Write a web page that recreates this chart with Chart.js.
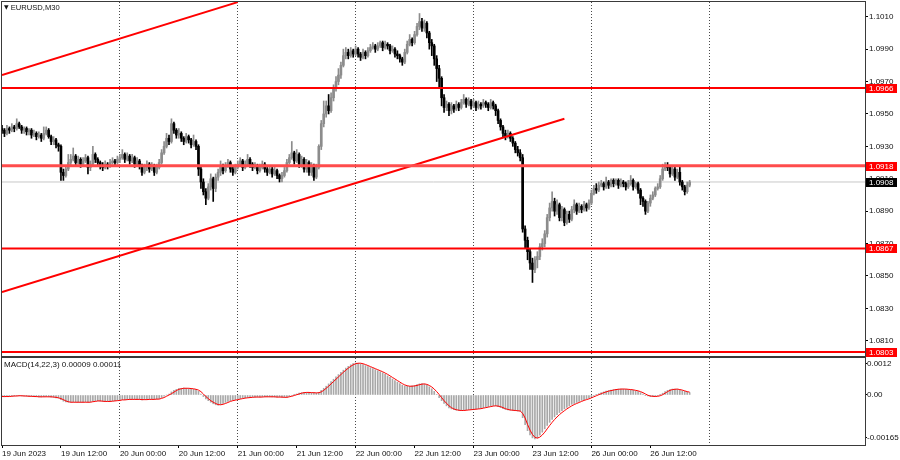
<!DOCTYPE html>
<html>
<head>
<meta charset="utf-8">
<title>EURUSD,M30</title>
<script src="https://cdn.jsdelivr.net/npm/chart.js@4.4.0/dist/chart.umd.min.js"></script>
<style>
    html, body { margin: 0; padding: 0; background: #fff; }
    #wrap { position: relative; width: 900px; height: 460px; overflow: hidden;
            font-family: 'Liberation Sans', Arial, sans-serif; }
    #priceCanvas { position: absolute; left: 0; top: 0; }
    #macdCanvas { position: absolute; left: 0; top: 357px; }
    .lbl { position: absolute; font-size: 8px; line-height: 10px; color: #111; white-space: nowrap; }
    .tri { font-family: 'DejaVu Sans', sans-serif; font-size: 6px; vertical-align: 1px; }
</style>
</head>
<body>
<div id="wrap">
    <canvas id="priceCanvas" width="900" height="357"></canvas>
    <canvas id="macdCanvas" width="900" height="103"></canvas>
    <div class="lbl" style="left:4px; top:2px; font-size:7.6px;"><span class="tri">▼</span> EURUSD,M30</div>
    <div class="lbl" id="macdTitle" style="left:4px; top:360px;"></div>
</div>
<script>
// EURUSD M30 with MACD(14,22,3) sub-window

const FONT = "'Liberation Sans', Arial, sans-serif";

// Time axis: one step = one M30 bar, bar 0 = 19 Jun 2023 00:00
const timeLabels = ['19 Jun 2023', '19 Jun 12:00', '20 Jun 00:00', '20 Jun 12:00', '21 Jun 00:00', '21 Jun 12:00',
    '22 Jun 00:00', '22 Jun 12:00', '23 Jun 00:00', '23 Jun 12:00', '26 Jun 00:00', '26 Jun 12:00'];
const labelBars = [0, 24, 48, 72, 96, 120, 144, 168, 192, 216, 240, 264, 288];
const dayBars = [48, 96, 144, 192, 240, 288];

// Candles
const opens = [1.0941,
    1.0940,1.0938,1.0941,1.0940,1.0942,1.0941,1.0944,1.0942,1.0940,1.0941,1.0939,1.0940,1.0937,1.0938,1.0936,1.0937,1.0935,1.0938,1.0940,1.0936,1.0933,1.0934,1.0931,1.0930,
    1.0914,1.0912,1.0916,1.0920,1.0922,1.0924,1.0920,1.0922,1.0919,1.0921,1.0923,1.0917,1.0919,1.0925,1.0922,1.0920,1.0918,1.0917,1.0919,1.0918,1.0920,1.0921,1.0920,1.0922,
    1.0923,1.0925,1.0922,1.0924,1.0921,1.0923,1.0919,1.0921,1.0918,1.0914,1.0917,1.0919,1.0916,1.0918,1.0914,1.0917,1.0920,1.0926,1.0930,1.0935,1.0933,1.0944,1.0940,1.0937,
    1.0938,1.0935,1.0933,1.0936,1.0934,1.0931,1.0933,1.0930,1.0916,1.0908,1.0902,1.0898,1.0905,1.0910,1.0904,1.0911,1.0914,1.0917,1.0915,1.0918,1.0920,1.0916,1.0914,1.0917,
    1.0919,1.0921,1.0917,1.0919,1.0922,1.0919,1.0917,1.0918,1.0915,1.0917,1.0919,1.0916,1.0914,1.0916,1.0913,1.0915,1.0912,1.0910,1.0912,1.0915,1.0920,1.0923,1.0926,1.0921,
    1.0925,1.0919,1.0922,1.0916,1.0920,1.0914,1.0918,1.0911,1.0917,1.0930,1.0944,1.0950,1.0955,1.0952,1.0960,1.0966,1.0970,1.0974,1.0980,1.0986,1.0988,1.0986,1.0989,1.0987,
    1.0990,1.0987,1.0985,1.0988,1.0986,1.0989,1.0991,1.0992,1.0990,1.0992,1.0994,1.0991,1.0993,1.0992,1.0989,1.0990,1.0987,1.0986,1.0984,1.0982,1.0988,1.0993,1.0996,1.0994,
    1.0999,1.1004,1.1007,1.1003,1.1006,1.1000,1.0994,1.0992,1.0984,1.0978,1.0972,1.0960,1.0954,1.0956,1.0952,1.0955,1.0953,1.0956,1.0954,1.0957,1.0959,1.0956,1.0958,1.0955,
    1.0957,1.0954,1.0956,1.0955,1.0957,1.0956,1.0954,1.0957,1.0955,1.0952,1.0946,1.0942,1.0938,1.0936,1.0938,1.0935,1.0932,1.0928,1.0926,1.0923,1.0879,1.0872,1.0865,1.0858,
    1.0854,1.0860,1.0862,1.0868,1.0870,1.0876,1.0886,1.0892,1.0896,1.0890,1.0894,1.0886,1.0891,1.0883,1.0888,1.0885,1.0891,1.0894,1.0890,1.0893,1.0891,1.0894,1.0892,1.0895,
    1.0901,1.0904,1.0903,1.0906,1.0907,1.0905,1.0908,1.0906,1.0909,1.0907,1.0909,1.0906,1.0908,1.0907,1.0905,1.0907,1.0909,1.0905,1.0907,1.0903,1.0898,1.0896,1.0890,1.0895,
    1.0898,1.0900,1.0904,1.0905,1.0910,1.0916,1.0918,1.0917,1.0913,1.0916,1.0911,1.0914,1.0908,1.0905,1.0902,1.0906];
const highs = [
    1.0943,1.0941,1.0943,1.0942,1.0944,1.0943,1.0947,1.0945,1.0943,1.0942,1.0942,1.0941,1.0941,1.0940,1.0939,1.0939,1.0938,1.0942,1.0942,1.0941,1.0937,1.0936,1.0935,1.0932,
    1.0931,1.0916,1.0918,1.0925,1.0925,1.0929,1.0925,1.0924,1.0923,1.0923,1.0925,1.0924,1.0921,1.0930,1.0926,1.0923,1.0921,1.0920,1.0921,1.0920,1.0922,1.0923,1.0922,1.0924,
    1.0925,1.0928,1.0926,1.0926,1.0925,1.0925,1.0924,1.0923,1.0922,1.0919,1.0919,1.0921,1.0920,1.0920,1.0919,1.0919,1.0922,1.0928,1.0933,1.0938,1.0937,1.0947,1.0945,1.0941,
    1.0941,1.0939,1.0936,1.0938,1.0937,1.0935,1.0937,1.0934,1.0931,1.0918,1.0910,1.0904,1.0907,1.0913,1.0911,1.0913,1.0916,1.0921,1.0919,1.0920,1.0922,1.0921,1.0918,1.0919,
    1.0921,1.0923,1.0922,1.0921,1.0925,1.0923,1.0920,1.0920,1.0919,1.0919,1.0921,1.0920,1.0917,1.0918,1.0917,1.0917,1.0916,1.0913,1.0914,1.0917,1.0922,1.0925,1.0933,1.0927,
    1.0928,1.0926,1.0924,1.0923,1.0922,1.0921,1.0920,1.0919,1.0919,1.0931,1.0946,1.0958,1.0958,1.0962,1.0963,1.0968,1.0973,1.0978,1.0982,1.0990,1.0991,1.0990,1.0991,1.0990,
    1.0992,1.0991,1.0988,1.0990,1.0989,1.0991,1.0993,1.0994,1.0993,1.0994,1.0995,1.0995,1.0995,1.0994,1.0993,1.0992,1.0991,1.0989,1.0987,1.0985,1.0990,1.0995,1.0999,1.0997,
    1.1001,1.1006,1.1012,1.1009,1.1008,1.1007,1.1001,1.0996,1.0993,1.0986,1.0980,1.0973,1.0962,1.0958,1.0957,1.0957,1.0956,1.0958,1.0957,1.0959,1.0962,1.0960,1.0960,1.0959,
    1.0959,1.0958,1.0958,1.0957,1.0959,1.0958,1.0957,1.0959,1.0958,1.0956,1.0953,1.0947,1.0943,1.0940,1.0940,1.0939,1.0936,1.0933,1.0930,1.0928,1.0925,1.0881,1.0874,1.0867,
    1.0861,1.0862,1.0865,1.0870,1.0873,1.0878,1.0888,1.0895,1.0902,1.0898,1.0897,1.0895,1.0893,1.0892,1.0890,1.0890,1.0893,1.0897,1.0895,1.0895,1.0894,1.0896,1.0895,1.0897,
    1.0903,1.0906,1.0907,1.0908,1.0909,1.0908,1.0911,1.0909,1.0910,1.0910,1.0910,1.0910,1.0910,1.0909,1.0908,1.0909,1.0912,1.0910,1.0908,1.0908,1.0904,1.0899,1.0897,1.0896,
    1.0900,1.0902,1.0905,1.0907,1.0912,1.0919,1.0920,1.0920,1.0918,1.0918,1.0917,1.0916,1.0918,1.0909,1.0906,1.0908,1.0909];
const lows = [
    1.0938,1.0936,1.0937,1.0938,1.0939,1.0939,1.0940,1.0941,1.0938,1.0938,1.0937,1.0937,1.0935,1.0936,1.0934,1.0935,1.0933,1.0934,1.0937,1.0935,1.0931,1.0931,1.0929,1.0927,
    1.0909,1.0909,1.0911,1.0915,1.0918,1.0921,1.0918,1.0919,1.0917,1.0918,1.0920,1.0913,1.0915,1.0918,1.0920,1.0918,1.0916,1.0915,1.0916,1.0916,1.0917,1.0919,1.0918,1.0919,
    1.0920,1.0922,1.0920,1.0921,1.0919,1.0920,1.0917,1.0918,1.0916,1.0912,1.0913,1.0915,1.0914,1.0915,1.0912,1.0913,1.0916,1.0919,1.0925,1.0929,1.0931,1.0932,1.0938,1.0935,
    1.0935,1.0933,1.0931,1.0932,1.0932,1.0929,1.0930,1.0928,1.0912,1.0904,1.0900,1.0894,1.0897,1.0903,1.0896,1.0902,1.0909,1.0912,1.0913,1.0914,1.0917,1.0914,1.0912,1.0913,
    1.0916,1.0918,1.0915,1.0916,1.0918,1.0917,1.0915,1.0916,1.0913,1.0914,1.0916,1.0914,1.0912,1.0913,1.0911,1.0912,1.0910,1.0908,1.0908,1.0911,1.0914,1.0919,1.0922,1.0919,
    1.0920,1.0917,1.0917,1.0914,1.0914,1.0912,1.0912,1.0909,1.0910,1.0916,1.0928,1.0942,1.0948,1.0950,1.0951,1.0958,1.0964,1.0968,1.0972,1.0979,1.0984,1.0984,1.0985,1.0985,
    1.0986,1.0985,1.0983,1.0984,1.0984,1.0985,1.0988,1.0990,1.0988,1.0989,1.0991,1.0989,1.0990,1.0990,1.0987,1.0988,1.0985,1.0984,1.0982,1.0980,1.0981,1.0987,1.0992,1.0992,
    1.0993,1.0998,1.1002,1.1001,1.1001,1.0997,1.0990,1.0986,1.0980,1.0970,1.0966,1.0955,1.0951,1.0952,1.0949,1.0950,1.0951,1.0952,1.0952,1.0953,1.0956,1.0954,1.0955,1.0953,
    1.0954,1.0952,1.0953,1.0953,1.0954,1.0954,1.0952,1.0953,1.0953,1.0949,1.0944,1.0940,1.0936,1.0934,1.0935,1.0933,1.0930,1.0926,1.0924,1.0921,1.0877,1.0867,1.0860,1.0854,
    1.0846,1.0852,1.0855,1.0860,1.0866,1.0868,1.0874,1.0884,1.0890,1.0887,1.0888,1.0884,1.0884,1.0881,1.0882,1.0883,1.0884,1.0889,1.0888,1.0889,1.0889,1.0890,1.0890,1.0891,
    1.0894,1.0900,1.0901,1.0902,1.0905,1.0903,1.0904,1.0904,1.0905,1.0905,1.0906,1.0904,1.0905,1.0905,1.0903,1.0904,1.0906,1.0903,1.0904,1.0901,1.0894,1.0893,1.0888,1.0889,
    1.0893,1.0897,1.0899,1.0903,1.0904,1.0909,1.0915,1.0915,1.0911,1.0912,1.0909,1.0910,1.0906,1.0903,1.0900,1.0901,1.0905];
const closes = [
    1.0940,1.0938,1.0941,1.0940,1.0942,1.0941,1.0944,1.0942,1.0940,1.0941,1.0939,1.0940,1.0937,1.0938,1.0936,1.0937,1.0935,1.0938,1.0940,1.0936,1.0933,1.0934,1.0931,1.0930,
    1.0914,1.0912,1.0916,1.0920,1.0922,1.0924,1.0920,1.0922,1.0919,1.0921,1.0923,1.0917,1.0919,1.0925,1.0922,1.0920,1.0918,1.0917,1.0919,1.0918,1.0920,1.0921,1.0920,1.0922,
    1.0923,1.0925,1.0922,1.0924,1.0921,1.0923,1.0919,1.0921,1.0918,1.0914,1.0917,1.0919,1.0916,1.0918,1.0914,1.0917,1.0920,1.0926,1.0930,1.0935,1.0933,1.0944,1.0940,1.0937,
    1.0938,1.0935,1.0933,1.0936,1.0934,1.0931,1.0933,1.0930,1.0916,1.0908,1.0902,1.0898,1.0905,1.0910,1.0904,1.0911,1.0914,1.0917,1.0915,1.0918,1.0920,1.0916,1.0914,1.0917,
    1.0919,1.0921,1.0917,1.0919,1.0922,1.0919,1.0917,1.0918,1.0915,1.0917,1.0919,1.0916,1.0914,1.0916,1.0913,1.0915,1.0912,1.0910,1.0912,1.0915,1.0920,1.0923,1.0926,1.0921,
    1.0925,1.0919,1.0922,1.0916,1.0920,1.0914,1.0918,1.0911,1.0917,1.0930,1.0944,1.0950,1.0955,1.0952,1.0960,1.0966,1.0970,1.0974,1.0980,1.0986,1.0988,1.0986,1.0989,1.0987,
    1.0990,1.0987,1.0985,1.0988,1.0986,1.0989,1.0991,1.0992,1.0990,1.0992,1.0994,1.0991,1.0993,1.0992,1.0989,1.0990,1.0987,1.0986,1.0984,1.0982,1.0988,1.0993,1.0996,1.0994,
    1.0999,1.1004,1.1007,1.1003,1.1006,1.1000,1.0994,1.0992,1.0984,1.0978,1.0972,1.0960,1.0954,1.0956,1.0952,1.0955,1.0953,1.0956,1.0954,1.0957,1.0959,1.0956,1.0958,1.0955,
    1.0957,1.0954,1.0956,1.0955,1.0957,1.0956,1.0954,1.0957,1.0955,1.0952,1.0946,1.0942,1.0938,1.0936,1.0938,1.0935,1.0932,1.0928,1.0926,1.0923,1.0879,1.0872,1.0865,1.0858,
    1.0854,1.0860,1.0862,1.0868,1.0870,1.0876,1.0886,1.0892,1.0896,1.0890,1.0894,1.0886,1.0891,1.0883,1.0888,1.0885,1.0891,1.0894,1.0890,1.0893,1.0891,1.0894,1.0892,1.0895,
    1.0901,1.0904,1.0903,1.0906,1.0907,1.0905,1.0908,1.0906,1.0909,1.0907,1.0909,1.0906,1.0908,1.0907,1.0905,1.0907,1.0909,1.0905,1.0907,1.0903,1.0898,1.0896,1.0890,1.0895,
    1.0898,1.0900,1.0904,1.0905,1.0910,1.0916,1.0918,1.0917,1.0913,1.0916,1.0911,1.0914,1.0908,1.0905,1.0902,1.0906,1.0908];

// Objects drawn on the chart
const levelPrices = [1.0966, 1.0918, 1.0867, 1.0803];
const levelColors = ['#ff0000', '#ff4c4c', '#ff0000', '#ff0000'];
const levelWidths = [2, 3, 2, 2];
const bidPrice = 1.0908;
const upperTrendBars = [0, 96];
const upperTrendPrices = [1.0974, 1.1019];
const lowerTrendBars = [0, 229];
const lowerTrendPrices = [1.0840, 1.0947];

const priceTicks = [1.0810, 1.0830, 1.0850, 1.0870, 1.0890, 1.0910, 1.0930, 1.0950, 1.0970, 1.0990, 1.1010];

// MACD main (histogram) and signal
const macdMain = [
    -6e-5,-7e-5,-6e-5,-5e-5,-4e-5,-4e-5,-3e-5,-3e-5,-4e-5,-4e-5,-5e-5,-5e-5,-6e-5,-6e-5,-7e-5,-7e-5,-8e-5,-7e-5,-6e-5,-7e-5,
    -8e-5,-9e-5,-11e-5,-12e-5,
    -18e-5,-24e-5,-27e-5,-28e-5,-28e-5,-27e-5,-28e-5,-28e-5,-29e-5,-28e-5,-27e-5,-28e-5,
    -27e-5,-24e-5,-23e-5,-23e-5,-24e-5,-25e-5,-25e-5,-25e-5,-24e-5,-23e-5,-22e-5,-21e-5,
    -20e-5,-18e-5,-18e-5,-17e-5,-17e-5,-16e-5,-17e-5,-17e-5,-17e-5,-19e-5,-18e-5,-17e-5,-17e-5,-16e-5,-17e-5,-16e-5,-14e-5,
    -10e-5,-5e-5,0,4e-5,12e-5,18e-5,22e-5,25e-5,
    26e-5,27e-5,26e-5,25e-5,24e-5,22e-5,21e-5,14e-5,
    4e-5,-6e-5,-15e-5,-22e-5,-28e-5,-34e-5,-38e-5,-39e-5,-37e-5,-33e-5,-29e-5,-25e-5,
    -22e-5,-20e-5,-18e-5,-16e-5,-14e-5,-12e-5,-11e-5,-10e-5,-9e-5,-8e-5,-8e-5,-8e-5,-8e-5,-7e-5,-7e-5,-7e-5,-7e-5,-7e-5,-8e-5,-8e-5,-8e-5,-9e-5,-9e-5,-8e-5,
    -5e-5,-2e-5,1e-5,4e-5,7e-5,9e-5,10e-5,10e-5,9e-5,9e-5,8e-5,8e-5,10e-5,
    18e-5,26e-5,34e-5,43e-5,52e-5,61e-5,70e-5,79e-5,88e-5,96e-5,104e-5,111e-5,117e-5,122e-5,
    124e-5,123e-5,121e-5,118e-5,114e-5,110e-5,106e-5,102e-5,98e-5,94e-5,90e-5,86e-5,
    80e-5,74e-5,68e-5,62e-5,56e-5,50e-5,44e-5,38e-5,
    35e-5,34e-5,34e-5,35e-5,37e-5,40e-5,43e-5,44e-5,
    42e-5,38e-5,32e-5,24e-5,14e-5,2e-5,-10e-5,-22e-5,-33e-5,-42e-5,-50e-5,
    -54e-5,-57e-5,-59e-5,-60e-5,-60e-5,-59e-5,-58e-5,-57e-5,-56e-5,-55e-5,-54e-5,-53e-5,-51e-5,-49e-5,-47e-5,-45e-5,-43e-5,-41e-5,
    -42e-5,-45e-5,-49e-5,-53e-5,-56e-5,-58e-5,-59e-5,-60e-5,-61e-5,-62e-5,-63e-5,
    -88e-5,-115e-5,-138e-5,-155e-5,-166e-5,-170e-5,-166e-5,-156e-5,
    -144e-5,-131e-5,-118e-5,-106e-5,-95e-5,-85e-5,-76e-5,-68e-5,-61e-5,-54e-5,-48e-5,-42e-5,-36e-5,
    -33e-5,-29e-5,-25e-5,-21e-5,-18e-5,-15e-5,-11e-5,-7e-5,-3e-5,1e-5,5e-5,
    9e-5,12e-5,15e-5,17e-5,19e-5,21e-5,22e-5,23e-5,23e-5,23e-5,22e-5,21e-5,20e-5,18e-5,16e-5,13e-5,
    9e-5,4e-5,-1e-5,-4e-5,-6e-5,-6e-5,-5e-5,
    -3e-5,1e-5,7e-5,13e-5,18e-5,21e-5,23e-5,23e-5,22e-5,
    19e-5,16e-5,14e-5,11e-5,9e-5];
const macdSignal = [
    -6e-5,-6e-5,-6e-5,-6e-5,-5e-5,-4e-5,-4e-5,-3e-5,-3e-5,-4e-5,-4e-5,-5e-5,-5e-5,-6e-5,-6e-5,-7e-5,-7e-5,-7e-5,-7e-5,-7e-5,
    -7e-5,-8e-5,-9e-5,-11e-5,
    -14e-5,-18e-5,-23e-5,-26e-5,-28e-5,-28e-5,-28e-5,-28e-5,-28e-5,-28e-5,-28e-5,-28e-5,
    -28e-5,-26e-5,-25e-5,-23e-5,-23e-5,-24e-5,-25e-5,-25e-5,-25e-5,-24e-5,-23e-5,-22e-5,
    -21e-5,-19e-5,-19e-5,-18e-5,-17e-5,-17e-5,-17e-5,-17e-5,-17e-5,-18e-5,-18e-5,-18e-5,-17e-5,-17e-5,-17e-5,-16e-5,-16e-5,
    -13e-5,-10e-5,-5e-5,0,5e-5,11e-5,17e-5,22e-5,
    24e-5,26e-5,26e-5,26e-5,25e-5,24e-5,22e-5,19e-5,
    13e-5,4e-5,-6e-5,-14e-5,-22e-5,-28e-5,-33e-5,-37e-5,-38e-5,-36e-5,-33e-5,-29e-5,
    -25e-5,-22e-5,-20e-5,-18e-5,-16e-5,-14e-5,-12e-5,-11e-5,-10e-5,-9e-5,-8e-5,-8e-5,-8e-5,-8e-5,-7e-5,-7e-5,-7e-5,-7e-5,-7e-5,-8e-5,-8e-5,-8e-5,-9e-5,-9e-5,
    -7e-5,-5e-5,-2e-5,1e-5,4e-5,7e-5,9e-5,10e-5,10e-5,9e-5,9e-5,8e-5,9e-5,
    12e-5,18e-5,26e-5,34e-5,43e-5,52e-5,61e-5,70e-5,79e-5,88e-5,96e-5,104e-5,111e-5,117e-5,
    121e-5,123e-5,123e-5,121e-5,118e-5,114e-5,110e-5,106e-5,102e-5,98e-5,94e-5,90e-5,
    85e-5,80e-5,74e-5,68e-5,62e-5,56e-5,50e-5,44e-5,
    39e-5,36e-5,34e-5,34e-5,35e-5,37e-5,40e-5,42e-5,
    43e-5,41e-5,37e-5,31e-5,23e-5,13e-5,2e-5,-10e-5,-22e-5,-32e-5,-42e-5,
    -49e-5,-54e-5,-57e-5,-59e-5,-60e-5,-60e-5,-59e-5,-58e-5,-57e-5,-56e-5,-55e-5,-54e-5,-53e-5,-51e-5,-49e-5,-47e-5,-45e-5,-43e-5,
    -42e-5,-43e-5,-45e-5,-49e-5,-53e-5,-56e-5,-58e-5,-59e-5,-60e-5,-61e-5,-62e-5,
    -71e-5,-89e-5,-114e-5,-136e-5,-153e-5,-164e-5,-167e-5,-163e-5,
    -155e-5,-144e-5,-131e-5,-118e-5,-106e-5,-95e-5,-85e-5,-76e-5,-68e-5,-61e-5,-54e-5,-48e-5,-42e-5,
    -37e-5,-33e-5,-29e-5,-25e-5,-21e-5,-18e-5,-15e-5,-11e-5,-7e-5,-3e-5,1e-5,
    5e-5,9e-5,12e-5,15e-5,17e-5,19e-5,21e-5,22e-5,23e-5,23e-5,23e-5,22e-5,21e-5,20e-5,18e-5,16e-5,
    13e-5,9e-5,4e-5,-1e-5,-4e-5,-5e-5,-6e-5,
    -5e-5,-3e-5,1e-5,7e-5,13e-5,18e-5,21e-5,22e-5,23e-5,
    21e-5,19e-5,16e-5,13e-5,11e-5];
const macdTicks = [-0.00165, 0, 0.0012];

// Visible window
const BAR_MIN = 0, BAR_MAX = 351.4;
const PRICE_MIN = 1.08006, PRICE_MAX = 1.10191;
const MACD_MIN = -0.001936, MACD_MAX = 0.001432;

const BULL = '#8c8c8c';
const BEAR = '#000000';
const LEVEL_RED = '#ff0000';

Chart.defaults.font.family = FONT;
Chart.defaults.font.size = 8;
Chart.defaults.color = '#111';

// Dotted day separators only
function dayGridColor(ctx) {
    return (ctx.tick && dayBars.includes(ctx.tick.value)) ? '#4a4a4a' : 'rgba(0,0,0,0)';
}

// Frame around each window
const framePlugin = {
    id: 'frame',
    afterDraw(chart) {
        const a = chart.chartArea;
        const ctx = chart.ctx;
        ctx.save();
        ctx.strokeStyle = '#3a3a3a';
        ctx.lineWidth = 1;
        ctx.strokeRect(a.left - 0.5, a.top - 0.5, a.right - a.left + 1, a.bottom - a.top + 1);
        ctx.restore();
    }
};

// Price tags on the right scale
const priceTagPlugin = {
    id: 'priceTags',
    afterDraw(chart) {
        const y = chart.scales.y;
        const left = chart.chartArea.right + 1;
        const ctx = chart.ctx;
        ctx.save();
        ctx.font = '8px ' + FONT;
        ctx.textBaseline = 'middle';
        const tag = (price, bg) => {
            const py = Math.round(y.getPixelForValue(price));
            ctx.fillStyle = bg;
            ctx.fillRect(left, py - 4, 31, 9);
            ctx.fillStyle = '#fff';
            ctx.fillText(price.toFixed(4), left + 3, py + 0.5);
        };
        levelPrices.forEach(p => tag(p, LEVEL_RED));
        tag(bidPrice, '#000');
        ctx.restore();
    }
};

function zeroPadding(s) {
    s.paddingTop = 0; s.paddingBottom = 0; s.paddingLeft = 0; s.paddingRight = 0;
}

// Build datasets
const candleColors = closes.map((c, i) => c >= opens[i] ? BULL : BEAR);
const wickData = highs.map((h, i) => ({ x: i, y: [lows[i], h] }));
const bodyData = closes.map((c, i) => ({ x: i, y: [opens[i], c] }));

const priceDatasets = [];
levelPrices.forEach((p, k) => {
    priceDatasets.push({
        type: 'line', data: [{ x: BAR_MIN, y: p }, { x: BAR_MAX, y: p }],
        borderColor: levelColors[k], borderWidth: levelWidths[k], pointRadius: 0, order: 1
    });
});
priceDatasets.push({
    type: 'line',
    data: upperTrendBars.map((b, i) => ({ x: b, y: upperTrendPrices[i] })),
    borderColor: LEVEL_RED, borderWidth: 2, pointRadius: 0, order: 1
});
priceDatasets.push({
    type: 'line',
    data: lowerTrendBars.map((b, i) => ({ x: b, y: lowerTrendPrices[i] })),
    borderColor: LEVEL_RED, borderWidth: 2, pointRadius: 0, order: 1
});
priceDatasets.push({
    type: 'line', data: [{ x: BAR_MIN, y: bidPrice }, { x: BAR_MAX, y: bidPrice }],
    borderColor: '#c8c8c8', borderWidth: 1, pointRadius: 0, order: 9
});
priceDatasets.push({
    type: 'bar', data: wickData, backgroundColor: candleColors,
    barThickness: 1, grouped: false, order: 6
});
priceDatasets.push({
    type: 'bar', data: bodyData, backgroundColor: candleColors,
    barThickness: 2, minBarLength: 1, grouped: false, order: 5
});

const xCommon = {
    type: 'linear', min: BAR_MIN, max: BAR_MAX, offset: false,
    afterBuildTicks: s => { s.ticks = labelBars.map(v => ({ value: v })); },
    border: { display: false, dash: [1, 2] }
};

// Price window
new Chart(document.getElementById('priceCanvas'), {
    type: 'bar',
    data: { datasets: priceDatasets },
    options: {
        responsive: false, animation: false, devicePixelRatio: 1,
        layout: { padding: { left: 2, top: 2, right: 0, bottom: 1 } },
        plugins: { legend: { display: false }, tooltip: { enabled: false } },
        scales: {
            x: Object.assign({}, xCommon, {
                ticks: { display: false },
                grid: { offset: false, drawTicks: false, color: dayGridColor, lineWidth: 1 },
                afterFit: s => { s.height = 0; zeroPadding(s); }
            }),
            y: {
                position: 'right', min: PRICE_MIN, max: PRICE_MAX,
                afterBuildTicks: s => { s.ticks = priceTicks.map(v => ({ value: v })); },
                ticks: { padding: 1, callback: v => v.toFixed(4) },
                grid: { drawOnChartArea: false, drawTicks: true, tickLength: 3, tickColor: '#000' },
                border: { display: false },
                afterFit: s => { s.width = 35; zeroPadding(s); }
            }
        }
    },
    plugins: [framePlugin, priceTagPlugin]
});

// MACD window
const lastMain = macdMain[macdMain.length - 1];
const lastSignal = macdSignal[macdSignal.length - 1];
document.getElementById('macdTitle').textContent =
    'MACD(14,22,3) ' + lastMain.toFixed(5) + ' ' + lastSignal.toFixed(5);

new Chart(document.getElementById('macdCanvas'), {
    type: 'bar',
    data: {
        datasets: [
            {
                type: 'line', data: macdSignal.map((v, i) => ({ x: i, y: v })),
                borderColor: '#ff0000', borderWidth: 1, pointRadius: 0, order: 1
            },
            {
                type: 'bar', data: macdMain.map((v, i) => ({ x: i, y: v })),
                backgroundColor: '#a8a8a8', barThickness: 1, grouped: false, order: 2
            }
        ]
    },
    options: {
        responsive: false, animation: false, devicePixelRatio: 1,
        layout: { padding: { left: 2, top: 1, right: 0, bottom: 0 } },
        plugins: { legend: { display: false }, tooltip: { enabled: false } },
        scales: {
            x: Object.assign({}, xCommon, {
                ticks: {
                    display: true, align: 'start', autoSkip: false, maxRotation: 0, padding: 1,
                    callback: (v, idx) => timeLabels[idx] || ''
                },
                grid: {
                    offset: false, drawTicks: true, tickLength: 3, color: dayGridColor, lineWidth: 1,
                    tickColor: ctx => (ctx.index < timeLabels.length ? '#000' : 'rgba(0,0,0,0)')
                },
                afterFit: s => { s.height = 15; zeroPadding(s); }
            }),
            y: {
                position: 'right', min: MACD_MIN, max: MACD_MAX,
                afterBuildTicks: s => { s.ticks = macdTicks.map(v => ({ value: v })); },
                ticks: { padding: 0, callback: v => (v === 0 ? '0.00' : String(v)) },
                grid: { drawOnChartArea: false, drawTicks: true, tickLength: 2, tickColor: '#000' },
                border: { display: false },
                afterFit: s => { s.width = 35; zeroPadding(s); }
            }
        }
    },
    plugins: [framePlugin]
});
</script>
</body>
</html>
